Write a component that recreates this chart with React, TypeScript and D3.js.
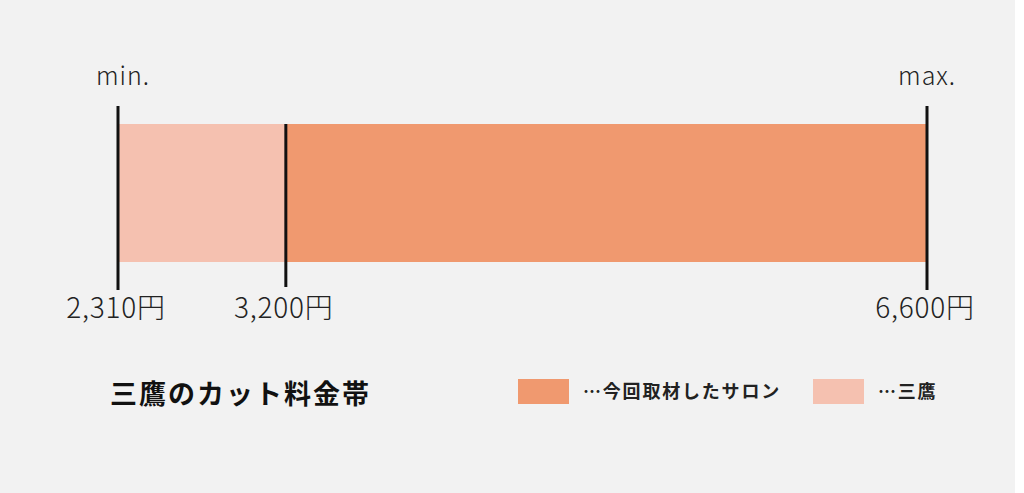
import * as d3 from 'd3';

const priceTicks = [2310, 3200, 6600];
const tickLabels = ['2,310円', '3,200円', '6,600円'];
const mitakaRange = [2310, 6600];
const salonRange = [3200, 6600];
const endLabels = ['min.', 'max.'];
const title = '三鷹のカット料金帯';
const legendItems = ['…今回取材したサロン', '…三鷹'];

const W = 1024;
const H = 493;
const salonColor = '#f0996f';
const mitakaColor = '#f5c1b0';
const font = '"Noto Sans CJK JP", "Noto Sans", sans-serif';

export default function App() {
  const x = d3.scaleLinear().domain([2310, 6600]).range([118, 927]);
  const barTop = 124;
  const barBottom = 262;
  const legendColors = [salonColor, mitakaColor];
  const legendX = [518, 813];

  return (
    <svg
      width={W}
      height={H}
      style={{ position: 'absolute', left: 0, top: 0, display: 'block' }}
    >
      <rect x={0} y={0} width={W} height={H} fill="#ffffff" />
      <rect x={0} y={0} width={1015} height={H} fill="#f2f2f2" />

      {/* Mitaka range (light) with interviewed salons on top */}
      <rect
        x={x(mitakaRange[0])}
        y={barTop}
        width={x(mitakaRange[1]) - x(mitakaRange[0])}
        height={barBottom - barTop}
        fill={mitakaColor}
      />
      <rect
        x={x(salonRange[0])}
        y={barTop}
        width={x(salonRange[1]) - x(salonRange[0])}
        height={barBottom - barTop}
        fill={salonColor}
      />

      {priceTicks.map((p, i) => {
        const isEnd = i === 0 || i === priceTicks.length - 1;
        return (
          <g key={p}>
            <line
              x1={x(p)}
              x2={x(p)}
              y1={isEnd ? 106 : barTop}
              y2={isEnd ? 290 : 287}
              stroke="#111"
              strokeWidth={3}
            />
            <text
              x={x(p) - 2}
              y={318}
              textAnchor="middle"
              fontFamily={font}
              fontSize={28}
              fontWeight={300}
              letterSpacing={0.8}
              fill="#222"
            >
              {tickLabels[i]}
            </text>
          </g>
        );
      })}

      <text x={x(priceTicks[0]) + 5} y={85} textAnchor="middle" fontFamily={font} fontSize={25} fontWeight={300} letterSpacing={1} fill="#222">
        {endLabels[0]}
      </text>
      <text x={x(priceTicks[2])} y={85} textAnchor="middle" fontFamily={font} fontSize={25} fontWeight={300} letterSpacing={1} fill="#222">
        {endLabels[1]}
      </text>

      <text x={110} y={404} fontFamily={font} fontSize={27} fontWeight={700} letterSpacing={2} fill="#111">
        {title}
      </text>

      {legendItems.map((label, i) => (
        <g key={label}>
          <rect x={legendX[i]} y={379} width={51} height={25} fill={legendColors[i]} />
          <text
            x={legendX[i] + 65}
            y={398}
            fontFamily={font}
            fontSize={18}
            fontWeight={700}
            letterSpacing={1.8}
            fill="#222"
          >
            {label}
          </text>
        </g>
      ))}
    </svg>
  );
}
